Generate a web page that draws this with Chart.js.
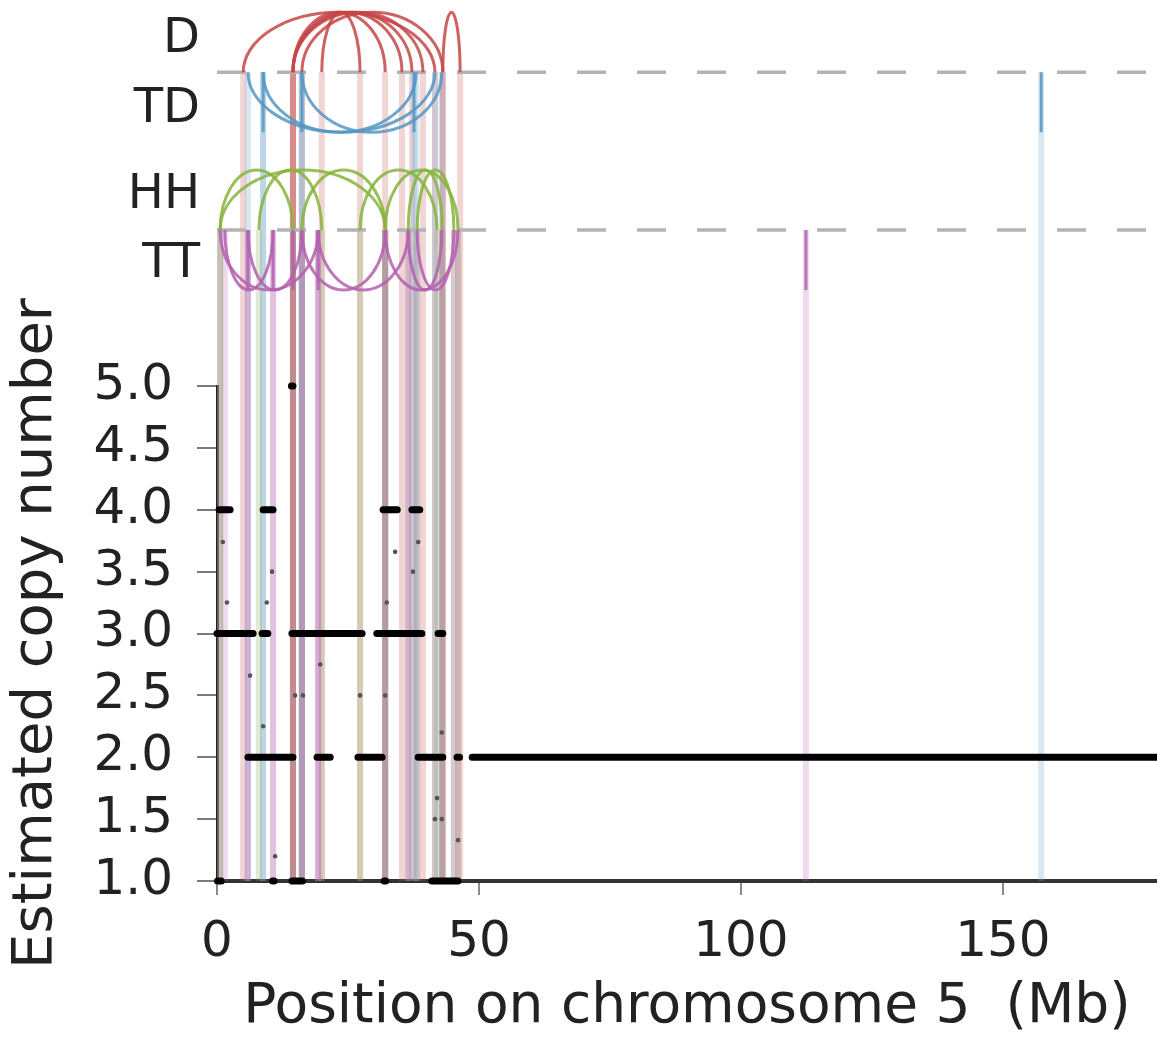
<!DOCTYPE html>
<html><head><meta charset="utf-8">
<script src="https://cdn.jsdelivr.net/npm/chart.js@4/dist/chart.umd.min.js"></script>
<style>html,body{margin:0;padding:0;background:#fff;}#wrap{width:1157px;height:1047px;position:relative;}</style>
</head><body><div id="wrap"><canvas id="c"></canvas></div>
<script>
// ---------------- data ----------------
const trackNames = ['D', 'TD', 'HH', 'TT'];
// intra-chromosomal structural variants: [start Mb, end Mb]
const svD  = [[5.0,41.6],[14.5,32.1],[14.5,35.3],[14.5,37.2],[14.5,39.3],[20.0,27.3],[16.2,43.1],[43.1,46.4]];
const svTD = [[5.9,41.6],[8.8,38.0],[16.2,42.9]];
const svHH = [[0.6,32.1],[0.6,14.5],[8.0,20.0],[16.2,32.1],[32.1,46.0],[36.5,43.0],[38.2,45.2],[27.3,42.0]];
const svTT = [[0.6,19.3],[1.5,10.7],[5.9,16.2],[16.2,32.1],[19.3,36.5],[32.1,46.0],[36.5,42.9],[38.2,45.2]];
// inter-chromosomal breakpoints (Mb)
const interTD = [8.8, 16.2, 37.6, 157.3];
const interTT = [5.9, 10.7, 14.5, 19.3, 112.4];
// copy-number segments
const cnSegStart = [0.4, 8.8, 31.7, 37.2, 14.2, 0.0, 8.6, 14.3, 30.5, 42.2, 5.9, 19.1, 26.9, 38.4, 45.8, 48.7, 0.1, 10.6, 14.3, 31.9, 41.0];
const cnSegEnd   = [2.5, 10.7, 34.4, 38.7, 14.5, 6.9, 9.7, 27.7, 39.1, 43.1, 14.5, 21.6, 31.5, 43.1, 46.3, 181.0, 0.8, 10.9, 16.3, 32.2, 46.0];
const cnSegValue = [4, 4, 4, 4, 5, 3, 3, 3, 3, 3, 2, 2, 2, 2, 2, 2, 1, 1, 1, 1, 1];
// isolated copy-number bins
const cnPointX = [1.1, 1.9, 10.5, 9.5, 34.0, 32.4, 38.4, 37.4, 6.3, 19.7, 14.9, 16.4, 27.3, 32.1, 8.8, 42.9, 42.0, 41.6, 42.9, 11.1, 46.0];
const cnPointY = [3.74, 3.25, 3.5, 3.25, 3.66, 3.25, 3.74, 3.5, 2.66, 2.75, 2.5, 2.5, 2.5, 2.5, 2.25, 2.2, 1.67, 1.5, 1.5, 1.2, 1.33];
// tick labels
const xTicks = [0, 50, 100, 150];
const yTicks = [1.0, 1.5, 2.0, 2.5, 3.0, 3.5, 4.0, 4.5, 5.0];

// ---------------- styling / layout ----------------
const FONT = 'DejaVu Sans';
const TRACK = {
  D:  {base: 5.23, dir: 1,  label: 0.54,  color: 'rgba(198,70,70,0.85)',  light: 'rgba(200,90,90,0.26)'},
  TD: {base: 5.23, dir: -1, label: -0.63, color: 'rgba(85,150,195,0.85)', light: 'rgba(120,170,210,0.28)'},
  HH: {base: 2.6,  dir: 1,  label: 0.58,  color: 'rgba(135,180,60,0.85)', light: 'rgba(140,170,90,0.26)'},
  TT: {base: 2.6,  dir: -1, label: -0.58, color: 'rgba(180,95,175,0.85)', light: 'rgba(185,115,185,0.26)'}
};
const svByType = {D: svD, TD: svTD, HH: svHH, TT: svTT};
const interByType = {D: [], TD: interTD, HH: [], TT: interTT};

const segData = [];
cnSegStart.forEach((s, i) => {
  segData.push({x: s, y: cnSegValue[i]}, {x: cnSegEnd[i], y: cnSegValue[i]}, {x: cnSegEnd[i], y: null});
});
const pointData = cnPointX.map((x, i) => ({x, y: cnPointY[i]}));

const svPlugin = {
  id: 'svTracks',
  beforeDatasetsDraw(chart) {
    const {ctx, chartArea, scales: {x, y, yTrack}} = chart;
    const bottom = y.getPixelForValue(y.min);
    ctx.save();
    ctx.lineWidth = 6;
    trackNames.forEach(t => {
      const cfg = TRACK[t];
      const by = yTrack.getPixelForValue(cfg.base);
      ctx.strokeStyle = cfg.light;
      const pts = [];
      svByType[t].forEach(p => pts.push(p[0], p[1]));
      interByType[t].forEach(p => pts.push(p));
      pts.forEach(mb => {
        const px = x.getPixelForValue(mb);
        ctx.beginPath(); ctx.moveTo(px, by); ctx.lineTo(px, bottom); ctx.stroke();
      });
    });
    ctx.setLineDash([29, 31]);
    ctx.strokeStyle = '#b3b3b3';
    ctx.lineWidth = 3.5;
    [TRACK.D.base, TRACK.HH.base].forEach(b => {
      const py = yTrack.getPixelForValue(b);
      ctx.beginPath(); ctx.moveTo(x.getPixelForValue(0), py); ctx.lineTo(chartArea.right, py); ctx.stroke();
    });
    ctx.setLineDash([]);
    ctx.lineWidth = 3;
    trackNames.forEach(t => {
      const cfg = TRACK[t];
      const by = yTrack.getPixelForValue(cfg.base);
      const ry = Math.abs(yTrack.getPixelForValue(cfg.base + 1) - by);
      ctx.strokeStyle = cfg.color;
      svByType[t].forEach(p => {
        const x1 = x.getPixelForValue(p[0]), x2 = x.getPixelForValue(p[1]);
        const cx = (x1 + x2) / 2, rx = Math.abs(x2 - x1) / 2;
        ctx.beginPath();
        if (cfg.dir > 0) ctx.ellipse(cx, by, rx, ry, 0, Math.PI, 2 * Math.PI);
        else ctx.ellipse(cx, by, rx, ry, 0, 0, Math.PI);
        ctx.stroke();
      });
      interByType[t].forEach(mb => {
        const px = x.getPixelForValue(mb);
        ctx.beginPath(); ctx.moveTo(px, by); ctx.lineTo(px, by - cfg.dir * ry); ctx.stroke();
      });
    });
    ctx.restore();
  },
  afterDraw(chart) {
    const {ctx, scales: {x, yTrack}} = chart;
    ctx.save();
    ctx.font = '48px "' + FONT + '"';
    ctx.fillStyle = '#222';
    ctx.textAlign = 'right';
    ctx.textBaseline = 'middle';
    trackNames.forEach(t => {
      const cfg = TRACK[t];
      ctx.fillText(t, x.getPixelForValue(0) - 17, yTrack.getPixelForValue(cfg.base + cfg.label));
    });
    ctx.restore();
  }
};

new Chart(document.getElementById('c'), {
  type: 'line',
  data: {
    datasets: [
      {type: 'line', data: segData, yAxisID: 'y', borderColor: '#000', borderWidth: 7, clip: 10,
       borderCapStyle: 'round', pointRadius: 0, spanGaps: false, tension: 0},
      {type: 'scatter', data: pointData, yAxisID: 'y', pointRadius: 2.3, backgroundColor: '#555', borderWidth: 0}
    ]
  },
  options: {
    responsive: true, maintainAspectRatio: false, animation: false, devicePixelRatio: 1,
    layout: {padding: 0, autoPadding: false},
    plugins: {legend: {display: false}, tooltip: {enabled: false}},
    scales: {
      x: {
        type: 'linear', position: 'bottom', min: 0, max: 179.4,
        afterBuildTicks: s => { s.ticks = xTicks.map(v => ({value: v})); },
        afterFit: s => { s.height = 166; s.paddingLeft = 0; s.paddingRight = 0; },
        ticks: {font: {family: FONT, size: 50}, color: '#222', padding: 18, autoSkip: false, maxRotation: 0},
        grid: {drawOnChartArea: false, tickLength: 14, color: '#8a8a8a', lineWidth: 2},
        border: {display: true, color: '#333', width: 4},
        title: {display: true, text: 'Position on chromosome 5  (Mb)', font: {family: FONT, size: 55}, color: '#222', padding: {top: 0, bottom: 6}}
      },
      yTrack: {
        type: 'linear', position: 'left', stack: 'main', stackWeight: 386, weight: 1,
        min: 0, max: 6.4333, display: false
      },
      y: {
        type: 'linear', position: 'left', stack: 'main', stackWeight: 495, weight: 0,
        min: 1, max: 5,
        afterBuildTicks: s => { s.ticks = yTicks.map(v => ({value: v})); },
        afterFit: s => { s.width = 217; s.paddingTop = 0; s.paddingBottom = 0; },
        ticks: {font: {family: FONT, size: 50}, color: '#222', padding: 24, autoSkip: false, callback: v => Number(v).toFixed(1)},
        grid: {drawOnChartArea: false, tickLength: 20, color: '#7a7a7a', lineWidth: 2},
        border: {display: true, color: '#222', width: 3},
        title: {display: true, text: 'Estimated copy number', font: {family: FONT, size: 56}, color: '#222', padding: {top: 3, bottom: 0}}
      }
    }
  },
  plugins: [svPlugin]
});
</script></body></html>
